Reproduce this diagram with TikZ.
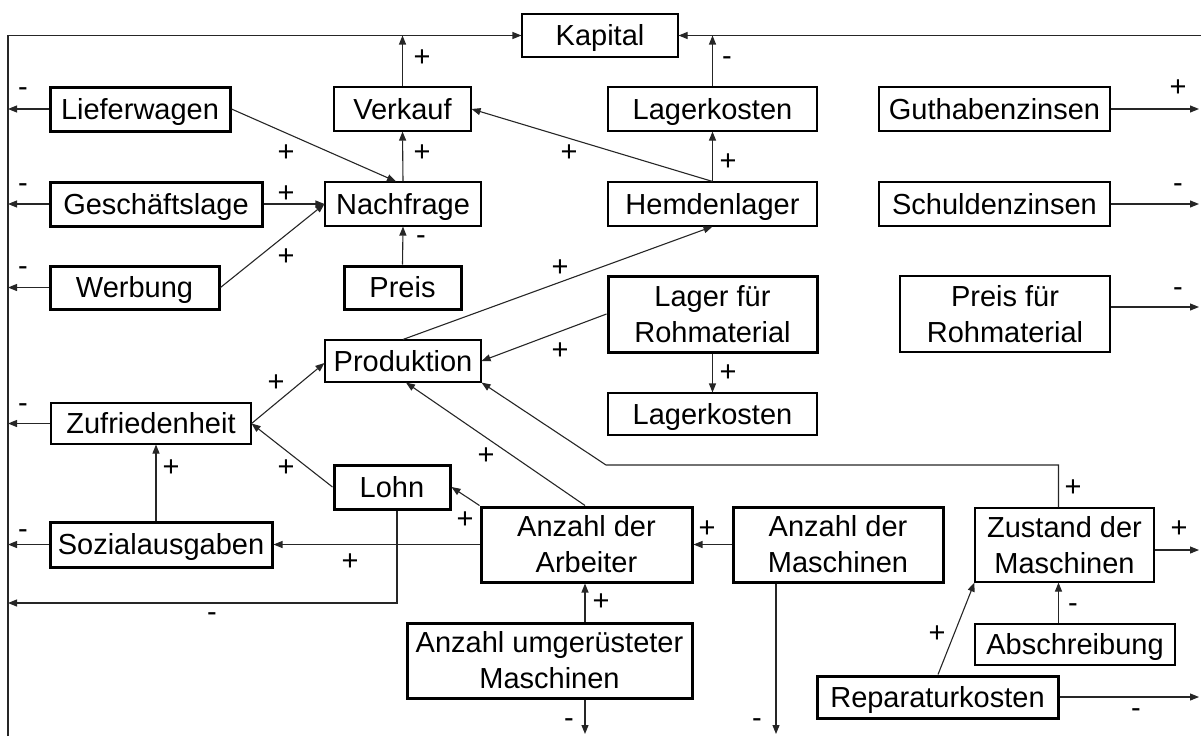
\documentclass[tikz,border=0pt]{standalone}
\usepackage{fontspec}
\setmainfont{Liberation Sans}
\usetikzlibrary{arrows.meta,calc}
\begin{document}
\begin{tikzpicture}[x=1pt,y=-1pt,
  every node/.style={font=\fontsize{29}{36}\selectfont},
  box2/.style={draw=black, line width=1.1pt, fill=white, inner sep=0pt, align=center},
  box/.style={box2, text height=20.8pt, text depth=0pt},
  thickbox/.style={box, line width=3pt},
  thickbox2/.style={box2, line width=3pt},
  conn/.style={draw=black!85, line width=1.1pt, -{Triangle[length=9pt,width=7pt]}},
  pl/.style={inner sep=0pt, yshift=-1.5pt},
  mi/.style={inner sep=0pt, yshift=-3pt}]
\useasboundingbox (0,0) rectangle (1201,736);

% nodes
\node[box, minimum width=156pt, minimum height=43pt] (kap) at (600,35.5) {Kapital};
\node[thickbox, minimum width=180pt, minimum height=44pt] (lief) at (140,109) {Lieferwagen};
\node[thickbox, minimum width=212pt, minimum height=44pt] (gesch) at (156,204) {Geschäftslage};
\node[thickbox, minimum width=169pt, minimum height=43pt] (werb) at (134.5,287.5) {Werbung};
\node[box, minimum width=137pt, minimum height=44pt] (verk) at (402.5,109) {Verkauf};
\node[box, minimum width=156pt, minimum height=44pt] (nach) at (403,204) {Nachfrage};
\node[thickbox, minimum width=117pt, minimum height=43pt] (preis) at (402.5,287.5) {Preis};
\node[box, minimum width=209pt, minimum height=44pt] (lagk1) at (712.5,109) {Lagerkosten};
\node[box, minimum width=209pt, minimum height=44pt] (hemd) at (712.5,204) {Hemdenlager};
\node[box, minimum width=231pt, minimum height=44pt] (guth) at (994.5,109) {Guthabenzinsen};
\node[box, minimum width=231pt, minimum height=44pt] (schuld) at (994.5,204) {Schuldenzinsen};
\node[box2, minimum width=210pt, minimum height=76pt] (prmat) at (1005,314) {Preis für\\Rohmaterial};
\node[thickbox2, minimum width=209pt, minimum height=76pt] (lagroh) at (712.5,314) {Lager für\\Rohmaterial};
\node[box, minimum width=209pt, minimum height=42pt] (lagk2) at (712.5,414) {Lagerkosten};
\node[box, minimum width=156pt, minimum height=42pt] (prod) at (403,361) {Produktion};
\node[box, minimum width=200pt, minimum height=41pt] (zufr) at (151,423.5) {Zufriedenheit};
\node[thickbox, minimum width=116pt, minimum height=44pt] (lohn) at (392,487) {Lohn};
\node[thickbox, minimum width=222pt, minimum height=45pt] (sozial) at (161,544.5) {Sozialausgaben};
\node[thickbox2, minimum width=211pt, minimum height=75pt] (arb) at (586.5,544.5) {Anzahl der\\Arbeiter};
\node[thickbox2, minimum width=210pt, minimum height=75pt] (masch) at (838,544.5) {Anzahl der\\Maschinen};
\node[thickbox2, minimum width=285pt, minimum height=75pt] (umg) at (549.5,660.5) {Anzahl umgerüsteter\\Maschinen};
\node[box2, minimum width=179pt, minimum height=74pt] (zust) at (1064.5,545) {Zustand der\\Maschinen};
\node[box, minimum width=200pt, minimum height=41pt] (absch) at (1075,644.5) {Abschreibung};
\node[thickbox, minimum width=241pt, minimum height=42pt] (rep) at (937.5,697) {Reparaturkosten};

% helper coordinates
\coordinate (ltop) at (8,35.5);
\coordinate (lbot) at (8,736);
\coordinate (rtop) at (1201,35.5);
\coordinate (redge) at (1199,0);
\coordinate (bedge) at (0,734);
\coordinate (sx) at (156,0);
\coordinate (ax) at (585,0);
\coordinate (mx) at (776,0);
\coordinate (zx) at (1058.5,0);
\coordinate (lohnc) at (397,603);
\coordinate (bend) at (606,465);

% frame lines to Kapital
\draw[conn] (lbot) -- (ltop) -- (kap.west);
\draw[conn] (rtop) -- (kap.east);
\draw[conn] (verk.north) -- (verk.north |- ltop);
\draw[conn] (lagk1.north) -- (lagk1.north |- ltop);

% upper connectors
\draw[conn] (nach.north) -- (verk.south);
\draw[conn] (hemd.north) -- (lagk1.south);
\draw[conn] (hemd.north) -- (verk.east);
\draw[conn] (lief.east) -- ($(nach.north)+(-7,0)$);
\draw[conn] (gesch.east) -- (nach.west);
\draw[conn] (werb.east) -- (nach.west);
\draw[conn] (preis.north) -- (nach.south);
\draw[conn] (prod.north) -- (hemd.south);
\draw[conn] (lagroh.west) -- (prod.east);
\draw[conn] (lagroh.south) -- (lagk2.north);

% left outputs
\draw[conn] (lief.west) -- (lief.west -| ltop);
\draw[conn] (gesch.west) -- (gesch.west -| ltop);
\draw[conn] (werb.west) -- (werb.west -| ltop);
\draw[conn] (zufr.west) -- (zufr.west -| ltop);
\draw[conn] (sozial.west) -- (sozial.west -| ltop);

% right outputs
\draw[conn] (guth.east) -- (guth.east -| redge);
\draw[conn] (schuld.east) -- (schuld.east -| redge);
\draw[conn] ($(prmat.east)+(0,-7)$) -- ($(prmat.east -| redge)+(0,-7)$);
\draw[conn] ($(zust.east)+(0,5)$) -- ($(zust.east -| redge)+(0,5)$);
\draw[conn] (rep.east) -- (rep.east -| redge);

% lower connectors
\draw[conn] (zufr.east) -- ($(prod.west)+(0,2)$);
\draw[conn] (lohn.west) -- (zufr.east);
\draw[conn] (sx |- sozial.north) -- (sx |- zufr.south);
\draw[conn] (arb.west) -- (sozial.east);
\draw[conn] (arb.north west) -- (lohn.east);
\draw[conn] (ax |- arb.north) -- ($(prod.south)+(3,0)$);
\draw[conn] (zx |- zust.north) -- (zx |- bend) -- (bend) -- (prod.south east);
\draw[conn] ($(lohn.south)+(5,0)$) -- (lohnc) -- (lohnc -| ltop);
\draw[conn] (ax |- umg.north) -- (ax |- arb.south);
\draw[conn] (ax |- umg.south) -- (ax |- bedge);
\draw[conn] (masch.west) -- (arb.east);
\draw[conn] (mx |- masch.south) -- (mx |- bedge);
\draw[conn] (zx |- absch.north) -- (zx |- zust.south);
\draw[conn] ($(rep.north)+(0.5,0)$) -- (zust.south west);

% labels
\node[pl] (l1) at (422,57) {+};
\node[mi] (l2) at (727,58) {-};
\node[pl] (l3) at (422,152) {+};
\node[pl] (l4) at (728,161) {+};
\node[pl] (l5) at (286,152) {+};
\node[pl] (l6) at (569,152) {+};
\node[pl] (l7) at (286,193) {+};
\node[pl] (l8) at (286,256) {+};
\node[mi] (l9) at (421,237) {-};
\node[pl] (l10) at (560,267) {+};
\node[mi] (l11) at (23,89) {-};
\node[mi] (l12) at (23,185) {-};
\node[mi] (l13) at (23,268) {-};
\node[pl] (l14) at (1178,87) {+};
\node[mi] (l15) at (1178,185) {-};
\node[mi] (l16) at (1178,289) {-};
\node[pl] (l17) at (560,350) {+};
\node[pl] (l18) at (728,372) {+};
\node[pl] (l19) at (276,382) {+};
\node[mi] (l20) at (23,405) {-};
\node[pl] (l21) at (286,467) {+};
\node[pl] (l22) at (171,467) {+};
\node[pl] (l23) at (486,455) {+};
\node[pl] (l24) at (465,519) {+};
\node[mi] (l25) at (23,531) {-};
\node[pl] (l26) at (350,561) {+};
\node[mi] (l27) at (212,614) {-};
\node[pl] (l28) at (601,601) {+};
\node[mi] (l29) at (569,720) {-};
\node[pl] (l30) at (707,528) {+};
\node[mi] (l31) at (757,720) {-};
\node[pl] (l32) at (1073,487) {+};
\node[pl] (l33) at (1179,528) {+};
\node[mi] (l34) at (1073,605) {-};
\node[pl] (l35) at (937,633) {+};
\node[mi] (l36) at (1136,710) {-};
\end{tikzpicture}
\end{document}
